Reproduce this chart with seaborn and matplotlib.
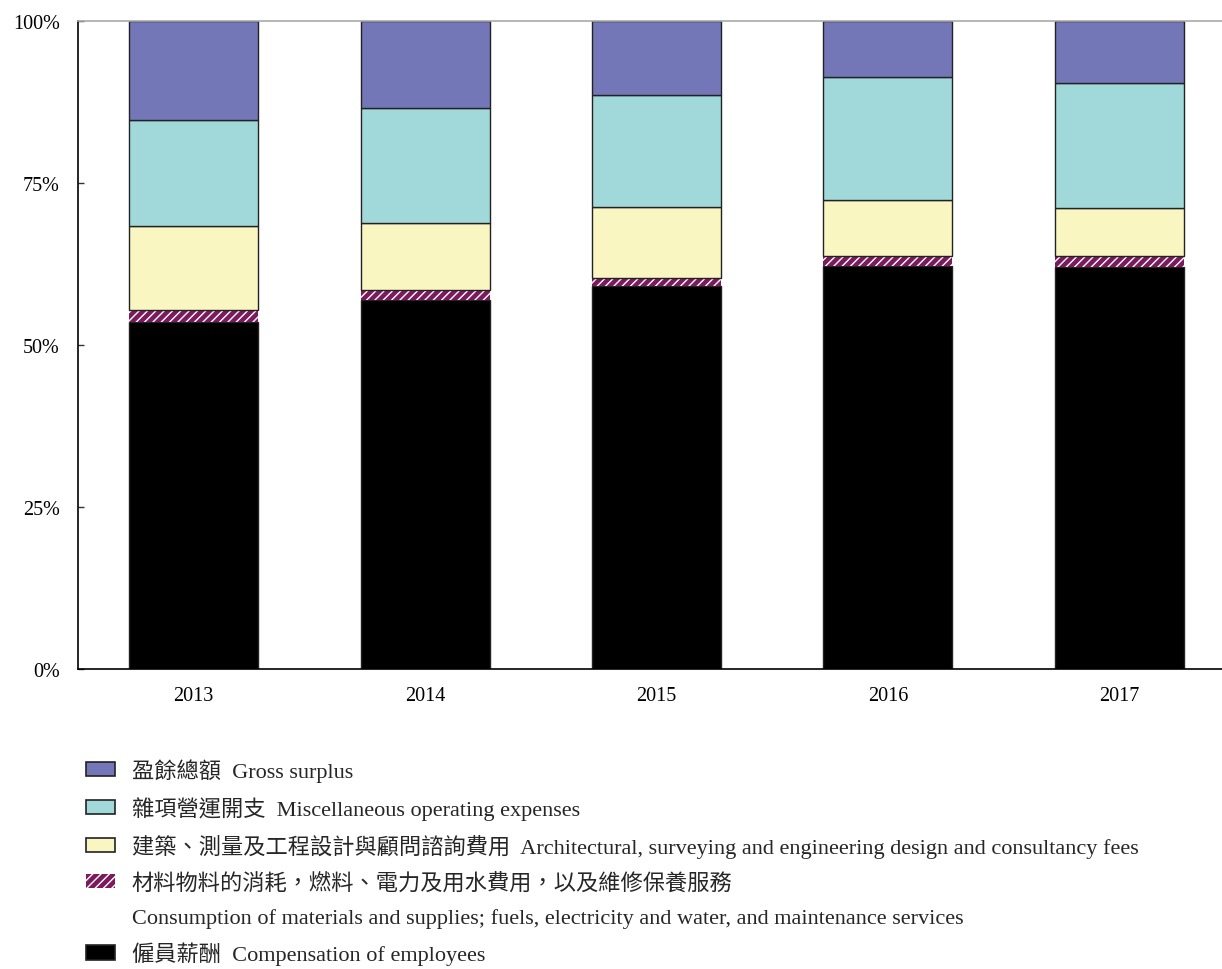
import matplotlib
matplotlib.use("Agg")
import matplotlib.pyplot as plt
import seaborn as sns
import numpy as np
from matplotlib.patches import Patch
from matplotlib.ticker import PercentFormatter

sns.set_theme(style="white")
plt.rcParams['font.family'] = ['Liberation Serif', 'Noto Sans CJK TC']

years = ["2013", "2014", "2015", "2016", "2017"]
compensation = [53.5, 56.9, 59.1, 62.2, 62.1]
materials = [1.9, 1.6, 1.3, 1.6, 1.7]
architectural = [13.0, 10.3, 10.9, 8.6, 7.4]
miscellaneous = [16.3, 17.8, 17.3, 18.9, 19.3]
surplus = [15.3, 13.4, 11.4, 8.7, 9.5]

labels = {
    "surplus": "盈餘總額  Gross surplus",
    "misc": "雜項營運開支  Miscellaneous operating expenses",
    "arch": "建築、測量及工程設計與顧問諮詢費用  Architectural, surveying and engineering design and consultancy fees",
    "mat1": "材料物料的消耗，燃料、電力及用水費用，以及維修保養服務",
    "mat2": "Consumption of materials and supplies; fuels, electricity and water, and maintenance services",
    "comp": "僱員薪酬  Compensation of employees",
}

c_comp = "#000000"
c_mat = "#7B1A5C"
c_arch = "#F9F6C2"
c_misc = "#A1D9DB"
c_surp = "#7377B8"

fig = plt.figure(figsize=(12.22, 9.70), dpi=100)
ax = fig.add_axes([78/1222, 300/970, (1235-78)/1222, 648/970])

W = 0.557
series = [
    (compensation, c_comp, None),
    (materials, c_mat, "////"),
    (architectural, c_arch, None),
    (miscellaneous, c_misc, None),
    (surplus, c_surp, None),
]
bottom = np.zeros(len(years))
for vals, col, hatch in series:
    if hatch:
        sns.barplot(x=years, y=vals, bottom=bottom, color=col, width=W,
                    edgecolor="white", linewidth=0, hatch=hatch, ax=ax,
                    saturation=1)
    else:
        sns.barplot(x=years, y=vals, bottom=bottom, color=col, width=W,
                    edgecolor="#222222", linewidth=1.0, ax=ax, saturation=1)
    bottom = bottom + np.array(vals)

ax.set_xlim(-0.5, 4.5)
ax.set_ylim(0, 100)
ax.set_yticks([0, 25, 50, 75, 100])
ax.yaxis.set_major_formatter(PercentFormatter(decimals=0))
ax.tick_params(axis='y', direction='in', length=4, width=1, color='#333333',
               pad=13, labelsize=14.5, left=True, labelcolor='black')
ax.tick_params(axis='x', length=0, pad=12, labelsize=14.5, labelcolor='black')
ax.set_xlabel("")
ax.set_ylabel("")
for s in ['left', 'bottom']:
    ax.spines[s].set_color('black')
    ax.spines[s].set_linewidth(1.2)
ax.spines['top'].set_color('#AAAAAA')
ax.spines['top'].set_linewidth(1.2)
ax.spines['right'].set_visible(False)
ax.grid(False)

handles = [
    Patch(facecolor=c_surp, edgecolor='#222222', linewidth=1.2),
    Patch(facecolor=c_misc, edgecolor='#222222', linewidth=1.2),
    Patch(facecolor=c_arch, edgecolor='#222222', linewidth=1.2),
    Patch(facecolor=c_mat, edgecolor='white', hatch='////', linewidth=0),
    Patch(facecolor='none', edgecolor='none', linewidth=0),
    Patch(facecolor=c_comp, edgecolor='#222222', linewidth=1.2),
]
leg_labels = [labels["surplus"], labels["misc"], labels["arch"],
              labels["mat1"], labels["mat2"], labels["comp"]]
fig.legend(handles, leg_labels, loc='upper left',
           bbox_to_anchor=(86/1222, 1 - 759/970), frameon=False,
           borderaxespad=0, borderpad=0, fontsize=16,
           handlelength=1.3, handleheight=0.6, handletextpad=0.75,
           labelspacing=0.64)

fig.savefig("out.png", dpi=100)
